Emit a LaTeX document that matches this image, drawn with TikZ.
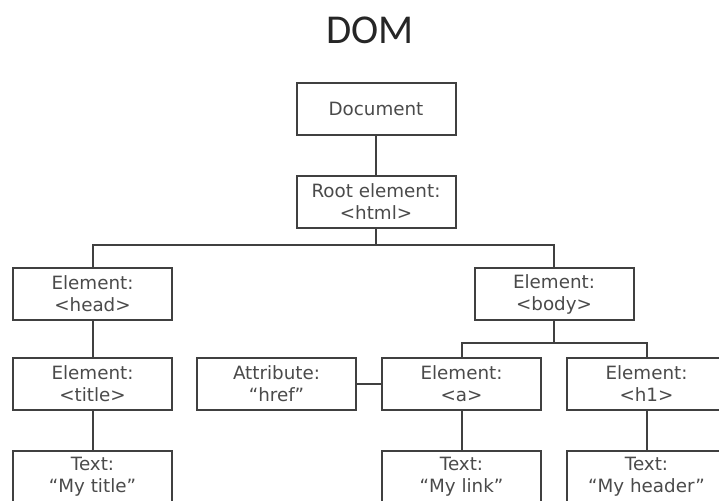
\documentclass[tikz,border=0pt]{standalone}
\usepackage{fontspec}
\setmainfont{DejaVu Sans}
\newfontfamily\titlefont{Carlito}
\begin{document}
\begin{tikzpicture}[x=1pt,y=-1pt,
  box/.style={draw=boxgray,line width=2pt,minimum width=159pt,minimum height=52pt,inner sep=0pt,align=center,
    text=textgray,font=\fontsize{18.3}{22}\selectfont},
  conn/.style={draw=boxgray,line width=2pt}]
\definecolor{boxgray}{HTML}{404040}
\definecolor{textgray}{HTML}{4A4A4A}
\useasboundingbox (0,0) rectangle (719,500);
\clip (0,0) rectangle (719,500);
\node[font=\titlefont\fontsize{41}{41}\selectfont,text=black!85] (ttl) at (370,30) {DOM};
\node[box] (doc) at (376,109) {Document};
\node[box] (root) at (376,201.5) {Root element:\\<html>};
\node[box] (head) at (92.5,294) {Element:\\<head>};
\node[box] (body) at (554,294) {Element:\\<body>};
\node[box] (title) at (92.5,384) {Element:\\<title>};
\node[box] (attr) at (276.5,384) {Attribute:\\“href”};
\node[box] (a) at (461.5,384) {Element:\\<a>};
\node[box] (h1) at (646.5,384) {Element:\\<h1>};
\node[box] (t1) at (92.5,477) {Text:\\“My title”};
\node[box] (t2) at (461.5,477) {Text:\\“My link”};
\node[box] (t3) at (646.5,477) {Text:\\“My header”};
\coordinate (j1) at (376,244.5);
\coordinate (j2) at (554,343);
\draw[conn] (doc) -- (root);
\draw[conn] (root) -- (j1);
\draw[conn] (head.north) |- (j1) -| (body.north);
\draw[conn] (body) -- (j2);
\draw[conn] (a.north) |- (j2) -| (h1.north);
\draw[conn] (head) -- (title);
\draw[conn] (title) -- (t1);
\draw[conn] (a) -- (t2);
\draw[conn] (h1) -- (t3);
\draw[conn] (attr) -- (a);
\end{tikzpicture}
\end{document}
